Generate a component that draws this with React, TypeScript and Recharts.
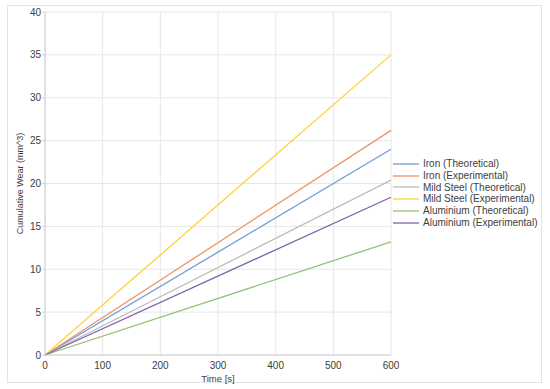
import React from "react";
import { LineChart, Line, XAxis, YAxis, CartesianGrid } from "recharts";

const times = [0, 600];
const ironTheoretical = [0, 24.0];
const ironExperimental = [0, 26.2];
const mildSteelTheoretical = [0, 20.4];
const mildSteelExperimental = [0, 35.0];
const aluminiumTheoretical = [0, 13.2];
const aluminiumExperimental = [0, 18.4];
const xTicks = [0, 100, 200, 300, 400, 500, 600];
const yTicks = [0, 5, 10, 15, 20, 25, 30, 35, 40];

const seriesDefs = [
  { key: "ironT", name: "Iron (Theoretical)", color: "#6f9ed2", values: ironTheoretical },
  { key: "ironE", name: "Iron (Experimental)", color: "#f0926a", values: ironExperimental },
  { key: "msT", name: "Mild Steel (Theoretical)", color: "#bdbdbd", values: mildSteelTheoretical },
  { key: "msE", name: "Mild Steel (Experimental)", color: "#fcd23c", values: mildSteelExperimental },
  { key: "alT", name: "Aluminium (Theoretical)", color: "#93c272", values: aluminiumTheoretical },
  { key: "alE", name: "Aluminium (Experimental)", color: "#7d62a9", values: aluminiumExperimental },
];

const data = times.map((t, i) => {
  const row: Record<string, number> = { time: t };
  seriesDefs.forEach((s) => {
    row[s.key] = s.values[i];
  });
  return row;
});

const FONT = "'Liberation Sans', Arial, sans-serif";

const LegendBox = () => (
  <div
    style={{
      position: "absolute",
      left: 393,
      top: 158,
      fontFamily: FONT,
      fontSize: 10,
      color: "#404040",
      lineHeight: "11.8px",
    }}
  >
    {seriesDefs.map((s) => (
      <div key={s.key} style={{ display: "flex", alignItems: "center", height: 11.8 }}>
        <svg width={26} height={4} style={{ marginRight: 4 }}>
          <line x1={0} y1={2} x2={26} y2={2} stroke={s.color} strokeWidth={1.3} />
        </svg>
        <span style={{ whiteSpace: "nowrap" }}>{s.name}</span>
      </div>
    ))}
  </div>
);

export default function App() {
  return (
    <div style={{ position: "absolute", left: 0, top: 0, width: 550, height: 389, background: "#fff" }}>
      <div
        style={{
          position: "absolute",
          left: 7,
          top: 5,
          width: 535,
          height: 378,
          border: "1px solid #e3e3e3",
          boxSizing: "border-box",
        }}
      />
      <div style={{ position: "absolute", left: 0, top: 0 }}>
        <LineChart
          width={550}
          height={389}
          data={data}
          margin={{ top: 12, right: 159, bottom: 0, left: 0 }}
        >
          <CartesianGrid stroke="#e6e6e6" strokeWidth={1} />
          <XAxis
            dataKey="time"
            type="number"
            domain={[0, 600]}
            ticks={xTicks}
            height={34}
            tick={{ fontSize: 10, fill: "#404040", fontFamily: FONT }}
            tickLine={false}
            axisLine={{ stroke: "#d0d0d0" }}
            tickMargin={1}
            label={{
              value: "Time [s]",
              position: "insideBottom",
              offset: 7,
              style: { fontSize: 9.5, fill: "#404040", fontFamily: FONT },
            }}
          />
          <YAxis
            type="number"
            domain={[0, 40]}
            ticks={yTicks}
            width={45}
            tick={{ fontSize: 10, fill: "#404040", fontFamily: FONT }}
            tickLine={{ stroke: "#d0d0d0" }}
            tickSize={3}
            tickMargin={1}
            axisLine={{ stroke: "#d0d0d0" }}
            label={{
              value: "Cumulative Wear (mm^3)",
              angle: -90,
              position: "insideLeft",
              offset: 20,
              style: { fontSize: 9, fill: "#404040", fontFamily: FONT, textAnchor: "middle" },
            }}
          />
          {seriesDefs.map((s) => (
            <Line
              key={s.key}
              dataKey={s.key}
              name={s.name}
              stroke={s.color}
              strokeWidth={1.3}
              dot={false}
              isAnimationActive={false}
            />
          ))}
        </LineChart>
      </div>
      <LegendBox />
    </div>
  );
}
